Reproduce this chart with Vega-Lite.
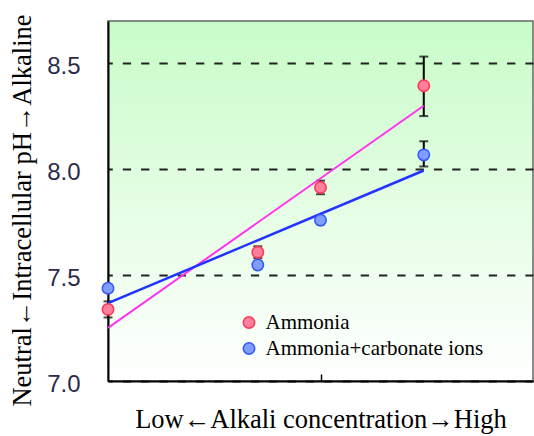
{
  "$schema": "https://vega.github.io/schema/vega-lite/v6.json",
  "width": 425,
  "height": 360,
  "autosize": {"type": "none"},
  "padding": {"left": 108, "top": 21, "right": 1, "bottom": 55},
  "background": "white",
  "config": {
    "view": {
      "stroke": "#666666",
      "strokeWidth": 1.5,
      "fill": {"gradient": "linear", "x1": 0, "y1": 0, "x2": 0, "y2": 1,
        "stops": [{"offset": 0, "color": "#c8fcc8"}, {"offset": 1, "color": "#ffffff"}]}
    },
    "font": "Liberation Serif"
  },
  "datasets": {
    "points": [
      {"x": 0, "y": 7.338, "ymin": 7.30, "ymax": 7.376, "series": "Ammonia"},
      {"x": 0.705, "y": 7.608, "ymin": 7.58, "ymax": 7.636, "series": "Ammonia"},
      {"x": 1, "y": 7.914, "ymin": 7.882, "ymax": 7.946, "series": "Ammonia"},
      {"x": 1.486, "y": 8.394, "ymin": 8.251, "ymax": 8.532, "series": "Ammonia"},
      {"x": 0, "y": 7.438, "ymin": 7.42, "ymax": 7.456, "series": "Ammonia+carbonate ions"},
      {"x": 0.705, "y": 7.548, "ymin": 7.53, "ymax": 7.566, "series": "Ammonia+carbonate ions"},
      {"x": 1, "y": 7.759, "ymin": 7.74, "ymax": 7.778, "series": "Ammonia+carbonate ions"},
      {"x": 1.486, "y": 8.068, "ymin": 8.013, "ymax": 8.132, "series": "Ammonia+carbonate ions"}
    ],
    "trend": [
      {"x": 0, "y": 7.251, "series": "Ammonia"},
      {"x": 1.486, "y": 8.300, "series": "Ammonia"},
      {"x": 0, "y": 7.3675, "series": "Ammonia+carbonate ions"},
      {"x": 1.486, "y": 7.994, "series": "Ammonia+carbonate ions"}
    ]
  },
  "layer": [
    {
      "data": {"name": "points"},
      "mark": {"type": "rule", "color": "black", "strokeWidth": 2},
      "encoding": {
        "x": {"field": "x", "type": "quantitative",
          "scale": {"domain": [0, 2], "nice": false},
          "axis": {"title": "Low←Alkali concentration→High", "values": [1], "labels": false,
            "tickSize": -7, "tickColor": "black", "tickWidth": 1.5,
            "domainColor": "black", "domainWidth": 2, "grid": false,
            "titleFont": "Liberation Serif", "titleFontSize": 26.5, "titleFontWeight": "normal",
            "titleColor": "black", "titleBaseline": "alphabetic", "titleY": 46}},
        "y": {"field": "ymin", "type": "quantitative",
          "scale": {"domain": [7, 8.7], "nice": false, "zero": false},
          "axis": {"title": "Neutral←Intracellular pH→Alkaline", "values": [7, 7.5, 8, 8.5], "format": ".1f",
            "tickSize": 0, "labelPadding": 28, "labelFont": "Liberation Sans", "labelFontSize": 24,
            "labelColor": "#2b2b4a", "labelOffset": 3,
            "domainColor": "black", "domainWidth": 2,
            "grid": true, "gridColor": "#222222", "gridWidth": 2, "gridDash": [8.3, 10], "gridDashOffset": 4,
            "titleFont": "Liberation Serif", "titleFontSize": 26.5, "titleFontWeight": "normal",
            "titleColor": "black", "titleAngle": -90, "titleX": -78, "titleY": 189,
            "titleBaseline": "alphabetic", "titleAlign": "center"}},
        "y2": {"field": "ymax"}
      }
    },
    {
      "data": {"name": "points"},
      "mark": {"type": "tick", "orient": "horizontal", "size": 9, "thickness": 2, "color": "black"},
      "encoding": {
        "x": {"field": "x", "type": "quantitative"},
        "y": {"field": "ymin", "type": "quantitative"}
      }
    },
    {
      "data": {"name": "points"},
      "mark": {"type": "tick", "orient": "horizontal", "size": 9, "thickness": 2, "color": "black"},
      "encoding": {
        "x": {"field": "x", "type": "quantitative"},
        "y": {"field": "ymax", "type": "quantitative"}
      }
    },
    {
      "data": {"name": "trend"},
      "transform": [{"filter": "datum.series === 'Ammonia'"}],
      "mark": {"type": "line", "color": "#ff33ee", "strokeWidth": 2},
      "encoding": {
        "x": {"field": "x", "type": "quantitative"},
        "y": {"field": "y", "type": "quantitative"}
      }
    },
    {
      "data": {"name": "trend"},
      "transform": [{"filter": "datum.series === 'Ammonia+carbonate ions'"}],
      "mark": {"type": "line", "color": "#2233ff", "strokeWidth": 2.5},
      "encoding": {
        "x": {"field": "x", "type": "quantitative"},
        "y": {"field": "y", "type": "quantitative"}
      }
    },
    {
      "data": {"name": "points"},
      "mark": {"type": "point", "shape": "circle", "filled": true, "size": 130, "strokeWidth": 1.5, "opacity": 1},
      "encoding": {
        "x": {"field": "x", "type": "quantitative"},
        "y": {"field": "y", "type": "quantitative"},
        "order": {"field": "series", "sort": "descending"},
        "fill": {"field": "series", "type": "nominal",
          "scale": {"domain": ["Ammonia", "Ammonia+carbonate ions"], "range": ["#ff7f9c", "#7f9cff"]},
          "legend": {"orient": "none", "legendX": 130.5, "legendY": 291, "title": null,
            "labelFont": "Liberation Serif", "labelFontSize": 21, "labelColor": "black", "labelLimit": 0,
            "symbolSize": 130, "symbolStrokeWidth": 1.5, "symbolType": "circle",
            "rowPadding": 4, "labelOffset": 6, "padding": 0}},
        "stroke": {"field": "series", "type": "nominal",
          "scale": {"domain": ["Ammonia", "Ammonia+carbonate ions"], "range": ["#ff3355", "#3355ff"]},
          "legend": {"orient": "none", "legendX": 130.5, "legendY": 291, "title": null,
            "labelFont": "Liberation Serif", "labelFontSize": 21, "labelColor": "black", "labelLimit": 0,
            "symbolSize": 130, "symbolStrokeWidth": 1.5, "symbolType": "circle",
            "rowPadding": 4, "labelOffset": 6, "padding": 0}}
      }
    }
  ]
}
